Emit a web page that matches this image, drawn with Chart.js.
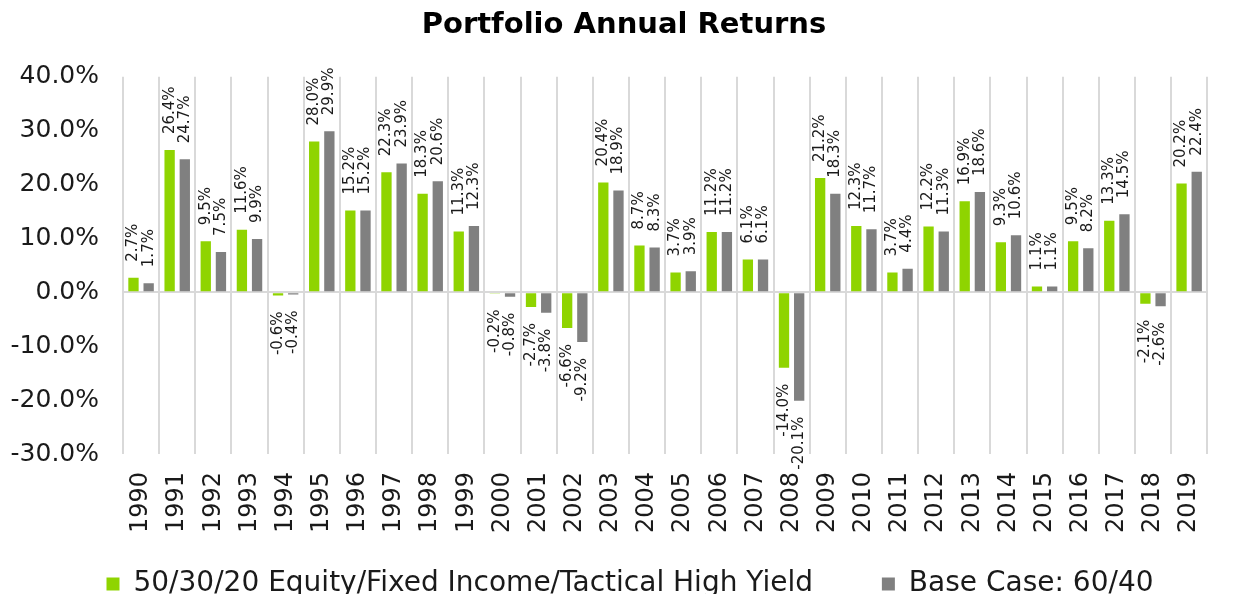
<!DOCTYPE html>
<html>
<head>
<meta charset="utf-8">
<script src="https://cdn.jsdelivr.net/npm/chart.js@4.4.0/dist/chart.umd.min.js"></script>
<style>
  html, body { margin: 0; padding: 0; background: #fff; }
  #wrap { width: 1236px; height: 594px; }
</style>
</head>
<body>
<div id="wrap"><canvas id="grafRetornos" width="1236" height="594"></canvas></div>
<script>
"use strict";

// ---- datos ----
const years = ["1990","1991","1992","1993","1994","1995","1996","1997","1998","1999",
  "2000","2001","2002","2003","2004","2005","2006","2007","2008","2009",
  "2010","2011","2012","2013","2014","2015","2016","2017","2018","2019"];
const tacticalReturns = [2.7, 26.4, 9.5, 11.6, -0.6, 28.0, 15.2, 22.3, 18.3, 11.3,
  -0.2, -2.7, -6.6, 20.4, 8.7, 3.7, 11.2, 6.1, -14.0, 21.2,
  12.3, 3.7, 12.2, 16.9, 9.3, 1.1, 9.5, 13.3, -2.1, 20.2];
const baseReturns = [1.7, 24.7, 7.5, 9.9, -0.4, 29.9, 15.2, 23.9, 20.6, 12.3,
  -0.8, -3.8, -9.2, 18.9, 8.3, 3.9, 11.2, 6.1, -20.1, 18.3,
  11.7, 4.4, 11.3, 18.6, 10.6, 1.1, 8.2, 14.5, -2.6, 22.4];
const seriesNames = ["50/30/20 Equity/Fixed Income/Tactical High Yield", "Base Case: 60/40"];
const yTicks = [40, 30, 20, 10, 0, -10, -20, -30];

const FONT = "'DejaVu Sans', sans-serif";
const pct = v => v.toFixed(1) + "%";

// etiquetas verticales encima / debajo de cada barra
const barLabels = {
  id: "barLabels",
  afterDatasetsDraw(chart) {
    const ctx = chart.ctx;
    ctx.save();
    ctx.font = "15px " + FONT;
    ctx.fillStyle = "#1a1a1a";
    ctx.textBaseline = "middle";
    chart.data.datasets.forEach((ds, i) => {
      chart.getDatasetMeta(i).data.forEach((bar, j) => {
        const v = ds.data[j];
        ctx.save();
        ctx.translate(bar.x, v >= 0 ? bar.y - 16 : bar.y + 16);
        ctx.rotate(-Math.PI / 2);
        ctx.textAlign = v >= 0 ? "left" : "right";
        ctx.fillText(pct(v), 0, 0);
        ctx.restore();
      });
    });
    ctx.restore();
  }
};

// desplaza título y leyenda un poco a la derecha, como en el original
const shiftBoxes = {
  id: "shiftBoxes",
  afterLayout(chart) {
    chart.legend.left += 14;
    chart.legend.right += 14;
    chart.titleBlock.left += 8;
    chart.titleBlock.right += 8;
  }
};

new Chart(document.getElementById("grafRetornos"), {
  type: "bar",
  data: {
    labels: years,
    datasets: [
      { label: seriesNames[0], data: tacticalReturns, backgroundColor: "#8fd400",
        categoryPercentage: 0.84, barPercentage: 0.68 },
      { label: seriesNames[1], data: baseReturns, backgroundColor: "#808080",
        categoryPercentage: 0.84, barPercentage: 0.68 }
    ]
  },
  options: {
    responsive: false,
    animation: false,
    layout: { padding: { left: 0, right: 4, top: 0, bottom: -14 } },
    plugins: {
      title: {
        display: true,
        text: "Portfolio Annual Returns",
        color: "#000",
        font: { family: FONT, size: 29, weight: "bold" },
        padding: { top: 8, bottom: 34 }
      },
      legend: {
        position: "bottom",
        labels: {
          color: "#1a1a1a",
          font: { family: FONT, size: 28 },
          boxWidth: 13,
          boxHeight: 13,
          padding: 4,
          generateLabels(chart) {
            const items = Chart.defaults.plugins.legend.labels.generateLabels(chart);
            items[0].text = items[0].text + "\u2003\u2003 ";
            items.forEach(it => { it.lineWidth = 0; });
            return items;
          }
        }
      },
      tooltip: { enabled: false }
    },
    scales: {
      x: {
        grid: { color: "#d9d9d9", lineWidth: 2, drawTicks: false, offset: true },
        border: { display: false },
        ticks: {
          color: "#1a1a1a",
          font: { family: FONT, size: 24 },
          maxRotation: 90,
          minRotation: 90,
          padding: 18,
          autoSkip: false
        },
        afterFit(scale) { scale.height = 112; }
      },
      y: {
        min: -30,
        max: 40,
        afterBuildTicks(scale) { scale.ticks = yTicks.map(v => ({ value: v })); },
        grid: {
          color: c => (c.tick && c.tick.value === 0 ? "#d9d9d9" : "rgba(0,0,0,0)"),
          lineWidth: 2,
          drawTicks: false
        },
        border: { display: false },
        ticks: {
          color: "#1a1a1a",
          font: { family: FONT, size: 25 },
          padding: 24,
          callback: v => pct(v)
        },
        afterFit(scale) { scale.width = 123; }
      }
    }
  },
  plugins: [barLabels, shiftBoxes]
});
</script>
</body>
</html>
